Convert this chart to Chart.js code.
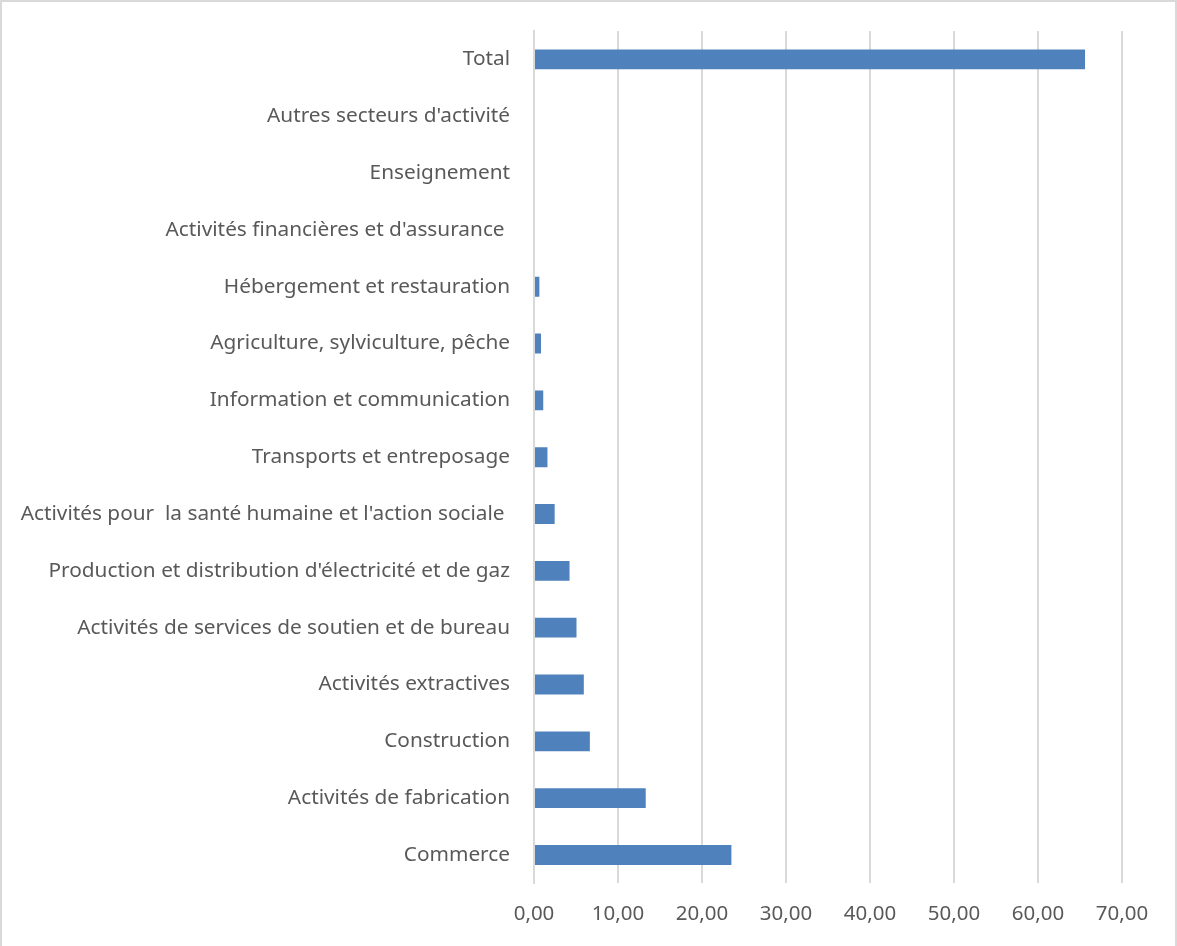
<!DOCTYPE html>
<html>
<head>
<meta charset="utf-8">
<script src="https://cdn.jsdelivr.net/npm/chart.js@4/dist/chart.umd.min.js"></script>
<style>
  html, body { margin: 0; padding: 0; background: #fff; }
  #wrap {
    position: absolute; left: 0; top: 0;
    width: 1173px; height: 946px;
    border: 2px solid #d9d9d9; border-bottom: none;
  }
</style>
</head>
<body>
<div id="wrap"><canvas id="chart" width="1173" height="944"></canvas></div>
<script>
// Secteurs, du haut vers le bas
const categories = [
  "Total",
  "Autres secteurs d'activité",
  "Enseignement",
  "Activités financières et d'assurance ",
  "Hébergement et restauration",
  "Agriculture, sylviculture, pêche",
  "Information et communication",
  "Transports et entreposage",
  "Activités pour  la santé humaine et l'action sociale ",
  "Production et distribution d'électricité et de gaz",
  "Activités de services de soutien et de bureau",
  "Activités extractives",
  "Construction",
  "Activités de fabrication",
  "Commerce"
];

const values = [65.6, 0, 0, 0, 0.64, 0.83, 1.1, 1.6, 2.46, 4.23, 5.06, 5.93, 6.65, 13.3, 23.5];

const xTicks = [0, 10, 20, 30, 40, 50, 60, 70];

const textColor = "#595959";

new Chart(document.getElementById("chart"), {
  type: "bar",
  data: {
    labels: categories,
    datasets: [{
      data: values,
      backgroundColor: "#4f81bd",
      borderWidth: 0,
      categoryPercentage: 0.7,
      barPercentage: 0.5
    }]
  },
  options: {
    indexAxis: "y",
    responsive: false,
    animation: false,
    layout: { padding: { left: 0, right: 53, top: 29, bottom: 2 } },
    plugins: { legend: { display: false }, tooltip: { enabled: false } },
    scales: {
      x: {
        min: 0,
        max: 70,
        afterBuildTicks: (s) => { s.ticks = xTicks.map(v => ({ value: v })); },
        grid: { color: "#d9d9d9", lineWidth: 2, drawTicks: false },
        border: { display: false },
        ticks: {
          color: textColor,
          font: { family: "Noto Sans", size: 20.5 },
          padding: 18,
          callback: (v) => Number(v).toFixed(2).replace(".", ",")
        }
      },
      y: {
        afterFit: (s) => { s.width = 532; s.paddingTop = 0; s.paddingBottom = 0; },
        grid: { display: false, drawTicks: false },
        border: { color: "#d9d9d9", width: 2 },
        ticks: {
          color: textColor,
          font: { family: "Noto Sans", size: 20.8 },
          padding: 24
        }
      }
    }
  }
});
</script>
</body>
</html>
